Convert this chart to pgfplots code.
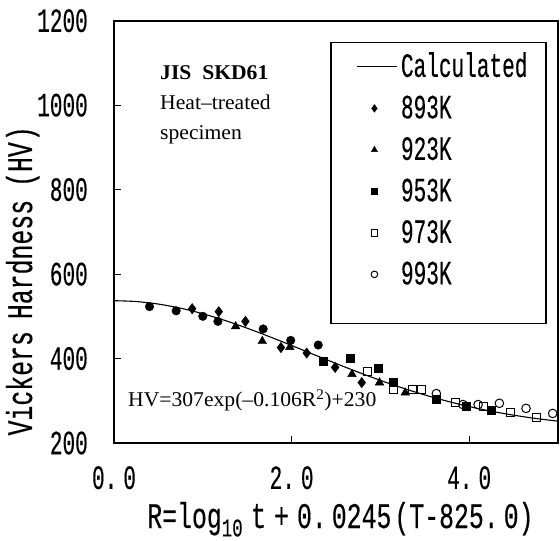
\documentclass[border=0pt]{standalone}
\usepackage{fontspec}
\setmainfont{Liberation Serif}
\newfontfamily\monofont[FakeStretch=0.62,FakeBold=0.3]{Liberation Mono}
\newfontfamily\labelfont[FakeStretch=0.69,FakeBold=0.3]{Liberation Mono}
\newfontfamily\annfont[FakeStretch=1.03]{Liberation Serif}
\usepackage{pgfplots}
\pgfplotsset{compat=1.18}
\newcommand\mfont{\monofont\fontsize{34bp}{38bp}\selectfont}
\newcommand\lfont{\labelfont\fontsize{36bp}{40bp}\selectfont}
\newcommand\afont{\annfont\fontsize{21bp}{25bp}\selectfont}

\begin{document}
\begin{tikzpicture}
\begin{axis}[
  width=444bp, height=422.3bp, scale only axis,
  xmin=0, xmax=5, ymin=200, ymax=1200,
  axis line style={line width=2bp},
  xtick={0,2,4},
  xticklabels={0.\kern6bp0, 2.\kern6bp0, 4.\kern6bp0},
  ytick={200,400,600,800,1000,1200},
  yticklabels={200,400,600,800,1000,1200},
  xtick pos=lower, ytick pos=lower,
  tick align=inside,
  major tick length=7bp,
  tick style={line width=0.8bp, black},
  xticklabel style={font=\mfont, anchor=north, inner sep=0pt, yshift=-23bp},
  yticklabel style={font=\mfont, anchor=east, inner sep=0pt, xshift=-26bp},
  clip=false,
  legend image code/.code={\draw[mark repeat=2,mark phase=2] plot coordinates {(0bp,0bp) (17bp,0bp) (39bp,0bp)};},
  legend style={at={(rel axis cs:0.5466,0.9148)}, anchor=north west,
    draw=none, fill=none, inner xsep=0pt, inner ysep=0pt,
    row sep=21.5bp, column sep=4bp, font=\mfont,
    nodes={inner sep=0pt, text height=20bp, text depth=0pt, anchor=west}},
  legend cell align=left,
]

% Fitted curve HV = 307 exp(-0.106 R^2) + 230
\addplot[black, line width=1.1bp, smooth] coordinates {
  (0.00,537.00) (0.25,534.97) (0.50,528.97) (0.75,519.23) (1.00,506.12)
  (1.25,490.14) (1.50,471.87) (1.75,451.91) (2.00,430.91) (2.25,409.51)
  (2.50,388.28) (2.75,367.72) (3.00,348.26) (3.25,330.21) (3.50,313.80)
  (3.75,299.14) (4.00,286.30) (4.25,275.25) (4.50,265.88) (4.75,258.08)
  (5.00,251.69)};
\addlegendentry{Calculated}

% 893 K
\addplot[only marks, mark=diamond*, mark size=5.2bp, black,
  legend image post style={mark size=3.8bp}] coordinates {
  (0.88,518) (1.18,511) (1.48,488) (1.88,426) (2.17,413) (2.49,379) (2.79,343)};
\addlegendentry{893K}

% 923 K
\addplot[only marks, mark=triangle*, mark size=5bp, black,
  legend image post style={mark size=3.6bp}] coordinates {
  (1.37,476) (1.67,441) (1.98,427) (2.68,363) (2.99,343) (3.28,319)};
\addlegendentry{923K}

% 953 K
\addplot[only marks, mark=square*, mark size=4bp, black,
  legend image post style={mark size=3.2bp}] coordinates {
  (2.36,393) (2.66,401) (2.97,377) (3.14,345) (3.63,303) (3.97,287) (4.25,277)};
\addlegendentry{953K}

% 973 K
\addplot[only marks, mark=square, mark size=4bp, black,
  mark options={fill=white, line width=1bp},
  legend image post style={mark size=3.2bp}] coordinates {
  (2.85,370) (3.15,326) (3.36,327) (3.46,326) (3.85,297) (4.16,286) (4.46,272) (4.76,260)};
\addlegendentry{973K}

% 993 K
\addplot[only marks, mark=o, mark size=4.3bp, black,
  mark options={fill=white, line width=1bp},
  legend image post style={mark size=3.3bp}] coordinates {
  (3.63,317) (3.93,291) (4.10,291) (4.34,294) (4.64,282) (4.94,270)};
\addlegendentry{993K}

% short-time points
\addplot[only marks, mark=*, mark size=4.3bp, black, forget plot] coordinates {
  (0.40,523) (0.70,513) (1.00,500) (1.17,488) (1.68,470) (1.99,443) (2.30,432)};

% legend frame
\draw[line width=1.1bp] (rel axis cs:0.4887,0.948) rectangle (rel axis cs:0.973,0.284);

% annotations
\node[anchor=base west, inner sep=0pt, font=\afont\bfseries] at (rel axis cs:0.1036,0.86) {JIS\ \ SKD61};
\node[anchor=base west, inner sep=0pt, font=\afont] at (rel axis cs:0.1036,0.79) {Heat–treated};
\node[anchor=base west, inner sep=0pt, font=\afont] at (rel axis cs:0.1036,0.7185) {specimen};
\node[anchor=base west, inner sep=0pt, font=\afont] at (rel axis cs:0.0315,0.086) {HV=307exp(–0.106R\textsuperscript{2})+230};

% axis titles
\node[anchor=base, inner sep=0pt, font=\lfont] at ([yshift=-85bp]rel axis cs:0.51,0)
  {R=log\textsubscript{10}\kern8bp t\kern8bp+\kern8bp0.\kern5bp0245\kern3bp(T-825.\kern5bp0)};
\node[anchor=base, rotate=90, inner sep=0pt, font=\lfont] at ([xshift=-82bp]rel axis cs:0,0.384)
  {Vickers\kern12bp Hardness\kern10bp\kern3bp(HV\kern1bp)};
\end{axis}
\pgfresetboundingbox
\useasboundingbox (-114bp,-98bp) rectangle (446bp,443bp);
\end{tikzpicture}
\end{document}
